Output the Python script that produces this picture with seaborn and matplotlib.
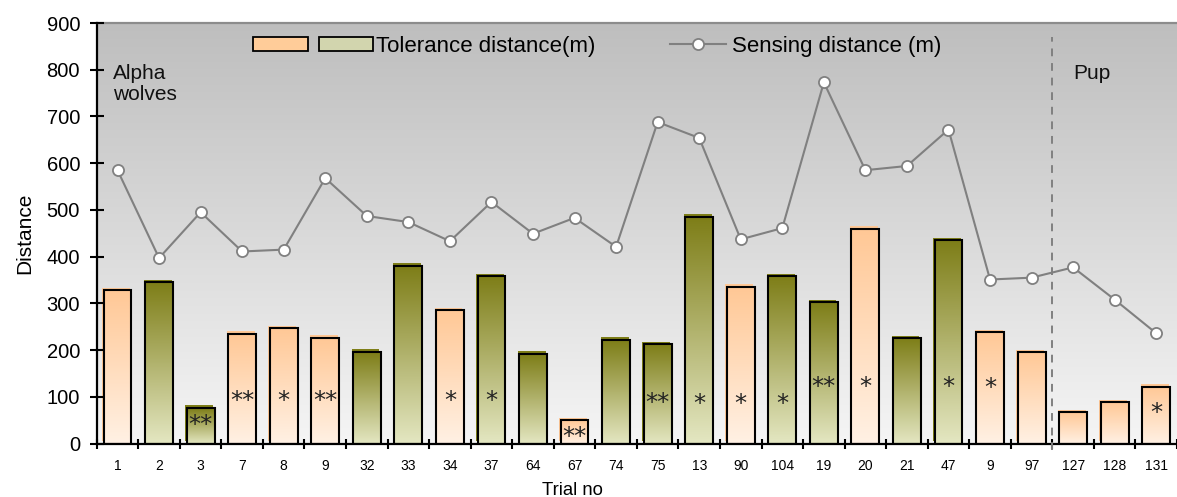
import numpy as np
import pandas as pd
import matplotlib
matplotlib.use("Agg")
import matplotlib.pyplot as plt
import seaborn as sns
from matplotlib.colors import LinearSegmentedColormap
from matplotlib.patches import Rectangle, Patch
from matplotlib.lines import Line2D
from matplotlib.legend_handler import HandlerTuple
import matplotlib.patheffects as pe

# ---------------- data ----------------
trials = ["1", "2", "3", "7", "8", "9", "32", "33", "34", "37", "64", "67", "74",
          "75", "13", "90", "104", "19", "20", "21", "47", "9", "97", "127", "128", "131"]
tolerance = [328, 345, 77, 235, 247, 226, 196, 380, 285, 358, 192, 50, 222,
             213, 485, 336, 358, 302, 460, 225, 435, 238, 195, 67, 88, 122]
sensing = [585, 397, 495, 411, 415, 568, 487, 474, 433, 517, 449, 483, 421,
           688, 654, 437, 461, 773, 585, 594, 672, 351, 355, 377, 308, 236]
group = ["peach", "olive", "olive", "peach", "peach", "peach", "olive", "olive", "peach",
         "olive", "olive", "peach", "olive", "olive", "olive", "peach", "olive", "olive",
         "peach", "olive", "olive", "peach", "peach", "peach", "peach", "peach"]
stars = ["", "", "**", "**", "*", "**", "", "", "*", "*", "", "**", "",
         "**", "*", "*", "*", "**", "*", "", "*", "*", "", "", "", "*"]
star_y = [0, 0, 40, 91, 91, 91, 0, 0, 91, 91, 0, 15, 0,
          87, 85, 85, 85, 121, 121, 0, 121, 118, 0, 0, 0, 66]
n_alpha = 23
y_ticks = [0, 100, 200, 300, 400, 500, 600, 700, 800, 900]

legend_bar_label = "Tolerance distance(m)"
legend_line_label = "Sensing distance (m)"
group_labels = ["Alpha\nwolves", "Pup"]
x_label = "Trial no"
y_label = "Distance"

# ---------------- style ----------------
top_col = {"peach": "#FFC896", "olive": "#7E7E18"}
bot_col = {"peach": "#FFF1E4", "olive": "#E4E7C2"}
line_col = "#808080"

plt.rcParams["font.family"] = ["Liberation Sans", "DejaVu Sans"]

df = pd.DataFrame({"pos": np.arange(len(trials)), "trial": trials,
                   "tol": tolerance, "sens": sensing, "grp": group})

fig = plt.figure(figsize=(11.77, 4.97), dpi=100)
ax = fig.add_axes([0.0822, 0.1076, 0.9178, 0.8461])

# background gradient
bg = LinearSegmentedColormap.from_list("bg", ["#F5F5F5", "#BEBEBE"])
ax.imshow(np.linspace(0, 1, 256).reshape(-1, 1), extent=[0, 1, 0, 1],
          transform=ax.transAxes, cmap=bg, aspect="auto", origin="lower", zorder=0)

sns.barplot(data=df, x="pos", y="tol", hue="grp", palette=top_col, dodge=False,
            width=0.67, legend=False, ax=ax, zorder=2, linewidth=0)

for p in list(ax.patches):
    x0, w, h = p.get_x(), p.get_width(), p.get_height()
    if not np.isfinite(h) or h <= 0:
        continue
    idx = int(round(x0 + w / 2))
    g = group[idx]
    p.set_facecolor(top_col[g])
    p.set_edgecolor("none")
    p.set_path_effects([pe.SimplePatchShadow(offset=(-1.0, 1.8), shadow_rgbFace=top_col[g],
                                             alpha=1.0, rho=1.0), pe.Normal()])
    cm = LinearSegmentedColormap.from_list("b" + g, [bot_col[g], top_col[g]])
    im = ax.imshow(np.linspace(0, 1, 128).reshape(-1, 1), extent=[x0, x0 + w, 0, h],
                   cmap=cm, aspect="auto", origin="lower", zorder=2.2)
    im.set_clip_path(p)
    ax.add_patch(Rectangle((x0, 0), w, h, fill=False, ec="black", lw=1.5, zorder=2.4))

sns.lineplot(data=df, x="pos", y="sens", color=line_col, lw=1.5, marker="o",
             markersize=8, markerfacecolor="white", markeredgecolor=line_col,
             markeredgewidth=1.3, sort=False, ax=ax, zorder=4)

for i, s in enumerate(stars):
    if s:
        ax.text(i, star_y[i], s, ha="center", va="center", fontsize=17.5,
                family="DejaVu Sans", color="#222222", zorder=5)

# divider between groups
ax.axvline(n_alpha - 0.5, ymin=-0.015, ymax=0.966, color=line_col, lw=1.4,
           ls=(0, (4, 3.5)), clip_on=False, zorder=3)

ax.text(0.0151, 812, group_labels[0], transform=ax.get_yaxis_transform(),
        fontsize=15, va="top", ha="left", linespacing=1.1, color="#111111")
ax.text(0.904, 812, group_labels[1], transform=ax.get_yaxis_transform(),
        fontsize=15, va="top", ha="left", color="#111111")

# axes
ax.set_xlim(-0.5, len(trials) - 0.5)
ax.set_ylim(0, 900)
ax.set_yticks(y_ticks)
ax.set_yticklabels([str(v) for v in y_ticks])
ax.set_xticks(np.arange(-0.5, len(trials)), labels=[""] * (len(trials) + 1))
ax.set_xticks(np.arange(len(trials)), labels=trials, minor=True)
ax.tick_params(axis="y", which="major", direction="inout", length=9.4, width=1.5,
               labelsize=14.5, pad=7.3, colors="black")
ax.tick_params(axis="x", which="major", direction="inout", length=6.5, width=1.5)
ax.tick_params(axis="x", which="minor", length=0, labelsize=10, pad=11)

for side in ["left", "bottom"]:
    ax.spines[side].set_color("black")
    ax.spines[side].set_linewidth(1.6)
ax.spines["top"].set_color("#8C8C8C")
ax.spines["top"].set_linewidth(1.6)
ax.spines["right"].set_visible(False)
ax.set_axisbelow(False)

ax.set_xlabel(x_label, fontsize=13.3)
ax.xaxis.set_label_coords(0.44, -0.0904)
ax.xaxis.label.set_va("top")
ax.set_ylabel(y_label, fontsize=15)
ax.yaxis.set_label_coords(-0.0577, 0.5)

# legends
h_bar = (Patch(fc="#FFCC99", ec="black", lw=1.3), Patch(fc="#D2D5AE", ec="black", lw=1.3))
leg1 = ax.legend([h_bar], [legend_bar_label], handler_map={tuple: HandlerTuple(ndivide=None, pad=0.5)},
                 loc="center left", bbox_to_anchor=(0.1447, 0.945), frameon=False,
                 fontsize=16, handlelength=5.4, handleheight=0.6, handletextpad=0.15,
                 borderpad=0, borderaxespad=0)
ax.add_artist(leg1)
h_line = Line2D([], [], color=line_col, lw=1.5, marker="o", markersize=8,
                markerfacecolor="white", markeredgecolor=line_col, markeredgewidth=1.3)
ax.legend([h_line], [legend_line_label], loc="center left", bbox_to_anchor=(0.5308, 0.945),
          frameon=False, fontsize=16, handlelength=2.5, handletextpad=0.3,
          borderpad=0, borderaxespad=0)

fig.savefig("out.png", dpi=100)
